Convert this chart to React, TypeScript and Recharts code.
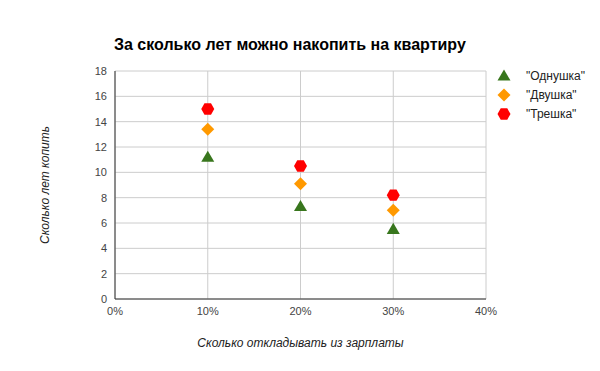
import React from 'react';
import { ScatterChart, Scatter, XAxis, YAxis, CartesianGrid, Label } from 'recharts';

const shares = [0.1, 0.2, 0.3];
const oneRoom = [11.2, 7.3, 5.5];
const twoRoom = [13.4, 9.1, 7.0];
const threeRoom = [15, 10.5, 8.2];
const xTicks = [0, 0.1, 0.2, 0.3, 0.4];
const yTicks = [0, 2, 4, 6, 8, 10, 12, 14, 16, 18];
const seriesNames = ['"Однушка"', '"Двушка"', '"Трешка"'];

const FONT = 'Arial, "Liberation Sans", sans-serif';
const GREEN = '#38761d';
const ORANGE = '#ff9900';
const RED = '#ff0000';

const toPoints = (vals: number[]) => shares.map((x, i) => ({ x, y: vals[i] }));

function Triangle({ cx, cy, fill }: any) {
  const r = 6.5;
  return <polygon points={`${cx},${cy - r} ${cx + r},${cy + r * 0.7} ${cx - r},${cy + r * 0.7}`} fill={fill} />;
}

function Diamond({ cx, cy, fill }: any) {
  const r = 6.5;
  return <polygon points={`${cx},${cy - r} ${cx + r},${cy} ${cx},${cy + r} ${cx - r},${cy}`} fill={fill} />;
}

function Hexagon({ cx, cy, fill }: any) {
  const r = 6.5;
  const pts = [0, 1, 2, 3, 4, 5]
    .map((i) => {
      const a = (Math.PI / 3) * i;
      return `${cx + r * Math.cos(a)},${cy + r * Math.sin(a)}`;
    })
    .join(' ');
  return <polygon points={pts} fill={fill} />;
}

function LegendBox() {
  const items = [
    { name: seriesNames[0], color: GREEN, Shape: Triangle },
    { name: seriesNames[1], color: ORANGE, Shape: Diamond },
    { name: seriesNames[2], color: RED, Shape: Hexagon },
  ];
  return (
    <div style={{ position: 'absolute', left: 496, top: 66, fontFamily: FONT, fontSize: 12, color: '#222' }}>
      {items.map(({ name, color, Shape }) => (
        <div key={name} style={{ display: 'flex', alignItems: 'center', height: 19 }}>
          <svg width={16} height={16} style={{ marginRight: 14 }}>
            <Shape cx={8} cy={8} fill={color} />
          </svg>
          <span>{name}</span>
        </div>
      ))}
    </div>
  );
}

export default function App() {
  return (
    <div style={{ position: 'absolute', left: 0, top: 0, width: 600, height: 371, background: '#fff' }}>
      <div
        style={{
          position: 'absolute',
          left: 114,
          top: 36,
          fontFamily: FONT,
          fontSize: 16,
          fontWeight: 'bold',
          color: '#000',
        }}
      >
        За сколько лет можно накопить на квартиру
      </div>
      <ScatterChart width={600} height={371} margin={{ top: 71, right: 114, bottom: 42, left: 85 }}>
        <CartesianGrid stroke="#cccccc" />
        <XAxis
          type="number"
          dataKey="x"
          domain={[0, 0.4]}
          ticks={xTicks}
          height={30}
          tickFormatter={(v) => `${Math.round(v * 100)}%`}
          tickLine={false}
          axisLine={{ stroke: '#333' }}
          tick={{ fill: '#444', fontSize: 11, fontFamily: FONT }}
        >
          <Label
            content={({ viewBox }: any) => (
              <text
                x={viewBox.x + viewBox.width / 2}
                y={viewBox.y + 48}
                textAnchor="middle"
                fontFamily={FONT}
                fontSize={12}
                fontStyle="italic"
                fill="#222"
              >
                Сколько откладывать из зарплаты
              </text>
            )}
          />
        </XAxis>
        <YAxis
          type="number"
          dataKey="y"
          domain={[0, 18]}
          ticks={yTicks}
          width={30}
          tickLine={false}
          axisLine={{ stroke: '#333' }}
          tick={{ fill: '#444', fontSize: 11, fontFamily: FONT }}
        >
          <Label
            content={({ viewBox }: any) => {
              const x = 49;
              const y = viewBox.y + viewBox.height / 2;
              return (
                <text
                  x={x}
                  y={y}
                  transform={`rotate(-90 ${x} ${y})`}
                  textAnchor="middle"
                  fontFamily={FONT}
                  fontSize={12}
                  fontStyle="italic"
                  fill="#222"
                >
                  Сколько лет копить
                </text>
              );
            }}
          />
        </YAxis>
        <Scatter name={seriesNames[0]} data={toPoints(oneRoom)} fill={GREEN} shape={<Triangle />} isAnimationActive={false} />
        <Scatter name={seriesNames[1]} data={toPoints(twoRoom)} fill={ORANGE} shape={<Diamond />} isAnimationActive={false} />
        <Scatter name={seriesNames[2]} data={toPoints(threeRoom)} fill={RED} shape={<Hexagon />} isAnimationActive={false} />
      </ScatterChart>
      <LegendBox />
    </div>
  );
}
